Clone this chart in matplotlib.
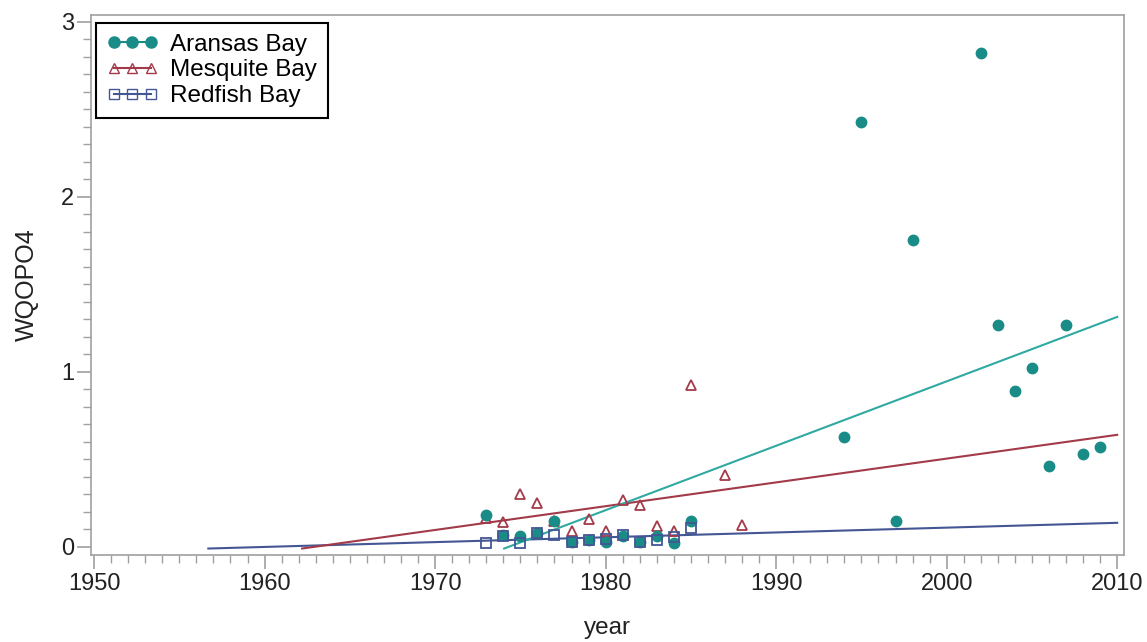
import matplotlib
matplotlib.use("Agg")
import matplotlib.pyplot as plt
from matplotlib.ticker import MultipleLocator
from matplotlib.lines import Line2D

plt.rcParams['font.family'] = ['Liberation Sans', 'DejaVu Sans']

# Aransas Bay
aransas_year = [1973, 1974, 1975, 1976, 1977, 1978, 1979, 1980, 1981, 1982, 1983, 1984, 1985,
                1994, 1995, 1997, 1998, 2002, 2003, 2004, 2005, 2006, 2007, 2008, 2009]
aransas_val = [0.18, 0.07, 0.06, 0.08, 0.145, 0.03, 0.04, 0.03, 0.063, 0.03, 0.059, 0.02, 0.15,
               0.63, 2.43, 0.15, 1.755, 2.82, 1.27, 0.89, 1.02, 0.46, 1.27, 0.53, 0.57]
# Mesquite Bay
mesquite_year = [1973, 1974, 1975, 1976, 1977, 1978, 1979, 1980, 1981, 1982, 1983, 1984, 1985, 1987, 1988]
mesquite_val = [0.165, 0.14, 0.30, 0.25, 0.145, 0.088, 0.16, 0.088, 0.265, 0.236, 0.116, 0.093, 0.926, 0.41, 0.126]
# Redfish Bay
redfish_year = [1973, 1974, 1975, 1976, 1977, 1978, 1979, 1980, 1981, 1982, 1983, 1984, 1985]
redfish_val = [0.02, 0.06, 0.02, 0.078, 0.069, 0.03, 0.04, 0.046, 0.069, 0.03, 0.04, 0.055, 0.11]

# trend lines (start year/value, end year/value)
aransas_trend_x = [1974.05, 2010]
aransas_trend_y = [-0.01, 1.314]
mesquite_trend_x = [1962.2, 2010]
mesquite_trend_y = [-0.01, 0.64]
redfish_trend_x = [1956.7, 2010]
redfish_trend_y = [-0.01, 0.137]

c_teal = '#1a8c88'
c_teal_line = '#2fa9a2'
c_red = '#a23a4a'
c_blue = '#445694'

fig = plt.figure(figsize=(11.47, 6.42), dpi=100)
ax = fig.add_axes([91/1147, 1 - 555/642, (1124-91)/1147, (555-15)/642])

ax.plot(redfish_trend_x, redfish_trend_y, color=c_blue, lw=1.5, zorder=2)
ax.plot(mesquite_trend_x, mesquite_trend_y, color=c_red, lw=1.5, zorder=2)
ax.plot(aransas_trend_x, aransas_trend_y, color=c_teal_line, lw=1.5, zorder=2)

ax.plot(mesquite_year, mesquite_val, ls='none', marker='^', ms=7, mfc='none', mec=c_red, mew=1.3, zorder=3)
ax.plot(aransas_year, aransas_val, ls='none', marker='o', ms=7.5, mfc=c_teal, mec=c_teal, zorder=4)
ax.plot(redfish_year, redfish_val, ls='none', marker='s', ms=6.5, mfc='none', mec=c_blue, mew=1.3, zorder=5)

ax.set_xlim(1949.82, 2010.4)
ax.set_ylim(-0.047, 3.04)
ax.xaxis.set_major_locator(MultipleLocator(10))
ax.xaxis.set_minor_locator(MultipleLocator(1))
ax.yaxis.set_major_locator(MultipleLocator(1))
ax.yaxis.set_minor_locator(MultipleLocator(0.1))

for s in ax.spines.values():
    s.set_color('#a0a0a0')
    s.set_linewidth(1.2)
ax.tick_params(which='both', color='#a0a0a0', labelsize=17, labelcolor='#222222')
ax.tick_params(which='major', length=10, width=1.2, pad=3)
ax.tick_params(which='minor', length=6, width=1)
ax.tick_params(axis='y', which='major', pad=2)
ax.set_xlabel('year', fontsize=17.5, color='#222222', labelpad=16)
ax.set_ylabel('WQOPO4', fontsize=18, color='#222222', labelpad=16)

handles = [
    Line2D([], [], color=c_teal, marker='o', ms=8, mfc=c_teal, lw=1.5),
    Line2D([], [], color=c_red, marker='^', ms=7, mfc='none', lw=1.5),
    Line2D([], [], color=c_blue, marker='s', ms=6.5, mfc='none', lw=1.5),
]
leg = ax.legend(handles, ['Aransas Bay', 'Mesquite Bay', 'Redfish Bay'], loc='upper left',
                bbox_to_anchor=(0.0, 0.995), numpoints=3, handlelength=2.1, fontsize=17.5,
                fancybox=False, framealpha=1, edgecolor='black', borderpad=0.45,
                labelspacing=0.16, handletextpad=0.5, borderaxespad=0.2)
leg.get_frame().set_linewidth(1.5)

fig.savefig('out.png', dpi=100)
